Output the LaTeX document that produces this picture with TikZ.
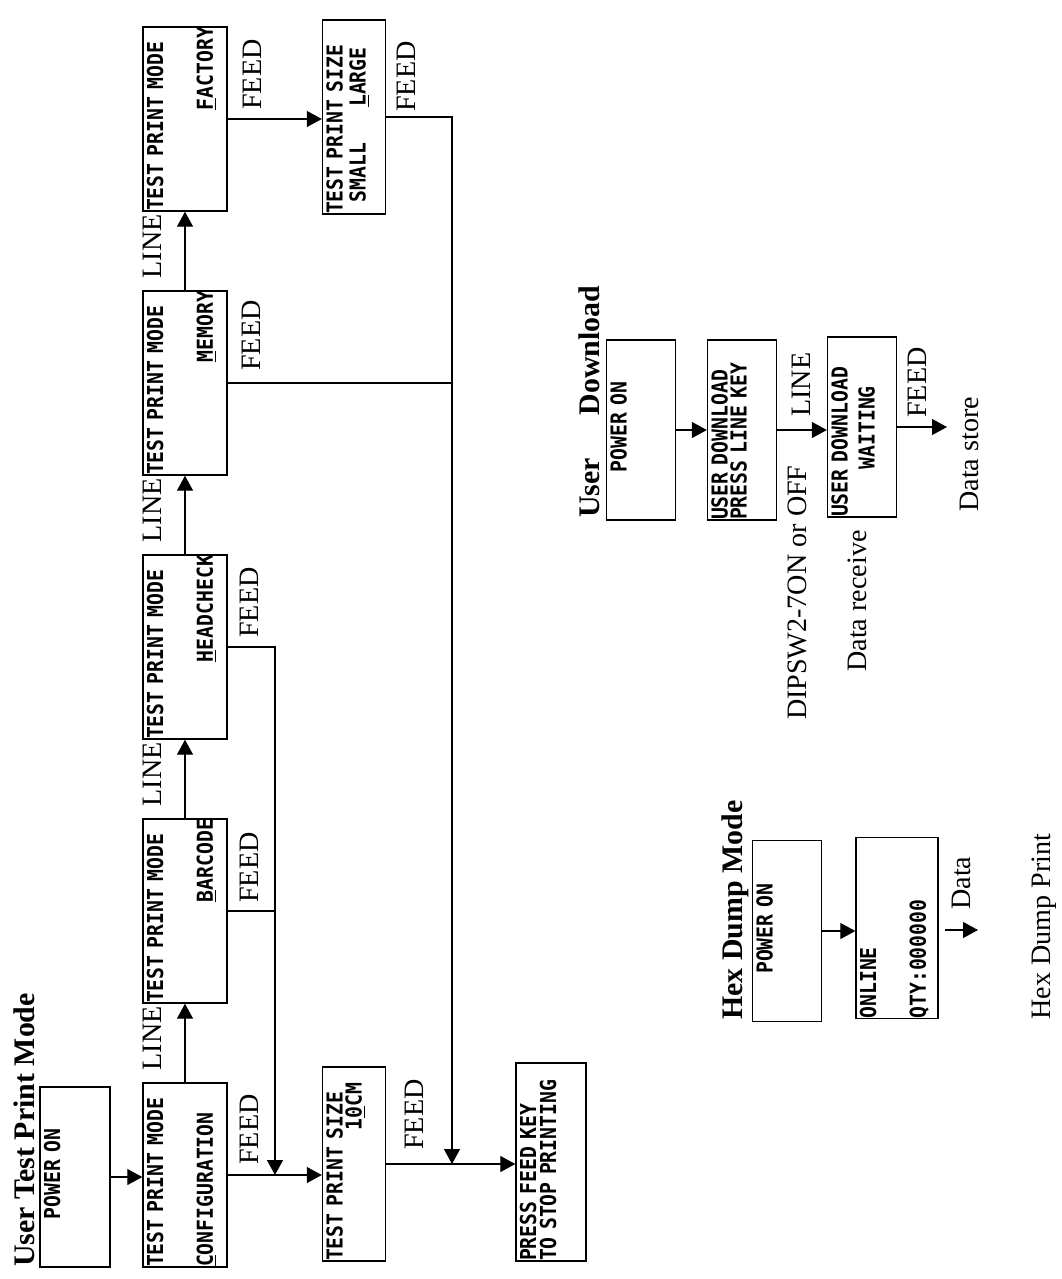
\documentclass[tikz,border=0pt]{standalone}
\usepackage{fontspec}
\setmainfont{Liberation Serif}
\newfontfamily\lcdfamily[FakeStretch=0.9]{DejaVu Sans Mono}
\newcommand{\lcdfont}{\lcdfamily\bfseries\fontsize{12.5pt}{4mm}\selectfont}
\newcommand{\lcdsp}[1]{\hspace*{#1\fontcharwd\font`M}}
\usetikzlibrary{arrows.meta}

\begin{document}
\begin{tikzpicture}[
  x=0.02cm, y=-0.02cm,
  >={Triangle[length=3mm, width=3.2mm]},
  lcd/.style 2 args={draw, line width=0.8pt, inner sep=0pt, font=\lcdfont,
    text width=#1, text height=4mm, text depth=#2, align=left},
  lbl/.style={inner sep=0pt, font=\fontsize{16pt}{18pt}\selectfont},
  ttl/.style={inner sep=0pt, font=\fontsize{17pt}{19pt}\selectfont\bfseries},
  arrow/.style={->, line width=0.7pt},
  wire/.style={line width=0.7pt}
]
\useasboundingbox (0,0) rectangle (1062,1279);
% the sheet is printed turned by 90 degrees
\begin{scope}[shift={(0,1279)}, rotate=90, transform shape]

% User Test Print Mode
\node[ttl, anchor=north west] (tmode) at (12,13) {User Test Print Mode};
\node[lcd={36mm}{10mm}] (pwr) at (102,75) {\lcdsp{4}POWER~ON};
\node[lcd={36.8mm}{12.8mm}] (cfg) at (104,185) {TEST PRINT MODE\\[6mm]\underline{C}ONFIGURATION};
\node[lcd={36.8mm}{12.8mm}] (bar) at (368,185) {TEST PRINT MODE\\[6mm]\hspace*{\fill}\underline{B}ARCODE};
\node[lcd={36.8mm}{12.8mm}] (hdc) at (632,185) {TEST PRINT MODE\\[6mm]\hspace*{\fill}\underline{H}EADCHECK};
\node[lcd={36.8mm}{12.8mm}] (mem) at (896,185) {TEST PRINT MODE\\[6mm]\hspace*{\fill}\underline{M}EMORY};
\node[lcd={36.8mm}{12.8mm}] (fac) at (1160,185) {TEST PRINT MODE\\[6mm]\hspace*{\fill}\underline{F}ACTORY};
\node[lcd={38.8mm}{8.6mm}] (szc) at (115,354) {TEST PRINT SIZE\\[-0.2mm]\lcdsp{11}1\underline{0}CM};
\node[lcd={38.8mm}{8.6mm}] (szl) at (1162,354) {TEST PRINT SIZE\\[0.6mm]\lcdsp{1}SMALL\lcdsp{3}\underline{L}ARGE};
\node[lcd={39.6mm}{10mm}] (prs) at (117,551) {PRESS FEED KEY\\TO STOP PRINTING};

\node[lbl, anchor=north east] (ln1) at (273,143) {LINE};
\node[lbl, anchor=north east] (ln2) at (537,143) {LINE};
\node[lbl, anchor=north east] (ln3) at (801,143) {LINE};
\node[lbl, anchor=north east] (ln4) at (1065,143) {LINE};
\node[lbl, anchor=north west] (fd1) at (114,240) {FEED};
\node[lbl, anchor=north west] (fd2) at (376,240) {FEED};
\node[lbl, anchor=north west] (fd3) at (641,240) {FEED};
\node[lbl, anchor=north west] (fd4) at (908,242) {FEED};
\node[lbl, anchor=north west] (fd5) at (1169,243) {FEED};
\node[lbl, anchor=north west] (fd6) at (1167,397) {FEED};
\node[lbl, anchor=north west] (fd7) at (129,405) {FEED};

\coordinate (fj) at (104,275);
\coordinate (mj) at (115,452);
\draw[arrow] (pwr.south) -- (pwr.south |- cfg.north);
\draw[arrow] (cfg) -- (bar);
\draw[arrow] (bar) -- (hdc);
\draw[arrow] (hdc) -- (mem);
\draw[arrow] (mem) -- (fac);
\draw[arrow] (cfg.south) -- (cfg.south |- szc.north);
\draw[wire] (bar.south) -- (bar.south |- fj);
\draw[arrow] (hdc.south) |- (fj);
\draw[arrow] (fac.south) -- (fac.south |- szl.north);
\draw[wire] (mem.south) -- (mem.south |- mj);
\draw[arrow] (szl.south) |- (mj);
\draw[arrow] (szc.south) -- (szc.south |- prs.north);

% User Download
\node[ttl, anchor=north west] (tdown) at (761,578) {User\hspace{0.85cm}Download};
\node[lcd={36mm}{9.8mm}] (udp) at (849,641) {\lcdsp{4}POWER~ON};
\node[lcd={36mm}{9.8mm}] (udk) at (849,742) {USER DOWNLOAD\\[-0.2mm]PRESS LINE KEY};
\node[lcd={36mm}{9.8mm}] (udw) at (852,862) {USER DOWNLOAD\\[1.4mm]\lcdsp{4}WAITING};
\coordinate (ds) at (852,947);
\node[lbl, anchor=north west] (udl) at (862,792) {LINE};
\node[lbl, anchor=north east] (dip) at (814,788) {DIPSW2-7ON or OFF};
\node[lbl, anchor=north east] (drx) at (749,848) {Data receive};
\node[lbl, anchor=north west] (udf) at (861,908) {FEED};
\node[lbl, anchor=north west] (dst) at (767,960) {Data store};
\draw[arrow] (udp) -- (udk);
\draw[arrow] (udk.south) -- (udk.south |- udw.north);
\draw[arrow] (udw.south) -- (ds);

% Hex Dump Mode
\node[ttl, anchor=north west] (thex) at (259,721) {Hex Dump Mode};
\node[lcd={36.2mm}{9.8mm}] (hxp) at (348,787) {\lcdsp{4}POWER~ON};
\node[lcd={36.2mm}{12.4mm}] (hxo) at (351,897) {ONLINE\\[6mm]QTY:000000};
\coordinate (hd0) at (349,945);
\coordinate (hd1) at (349,978);
\node[lbl, anchor=north west] (hxd) at (369,952) {Data};
\node[lbl, anchor=north west] (hxpr) at (259,1032) {Hex Dump Print};
\draw[arrow] (hxp.south) -- (hxp.south |- hxo.north);
\draw[arrow] (hd0) -- (hd1);

\end{scope}
\end{tikzpicture}
\end{document}
